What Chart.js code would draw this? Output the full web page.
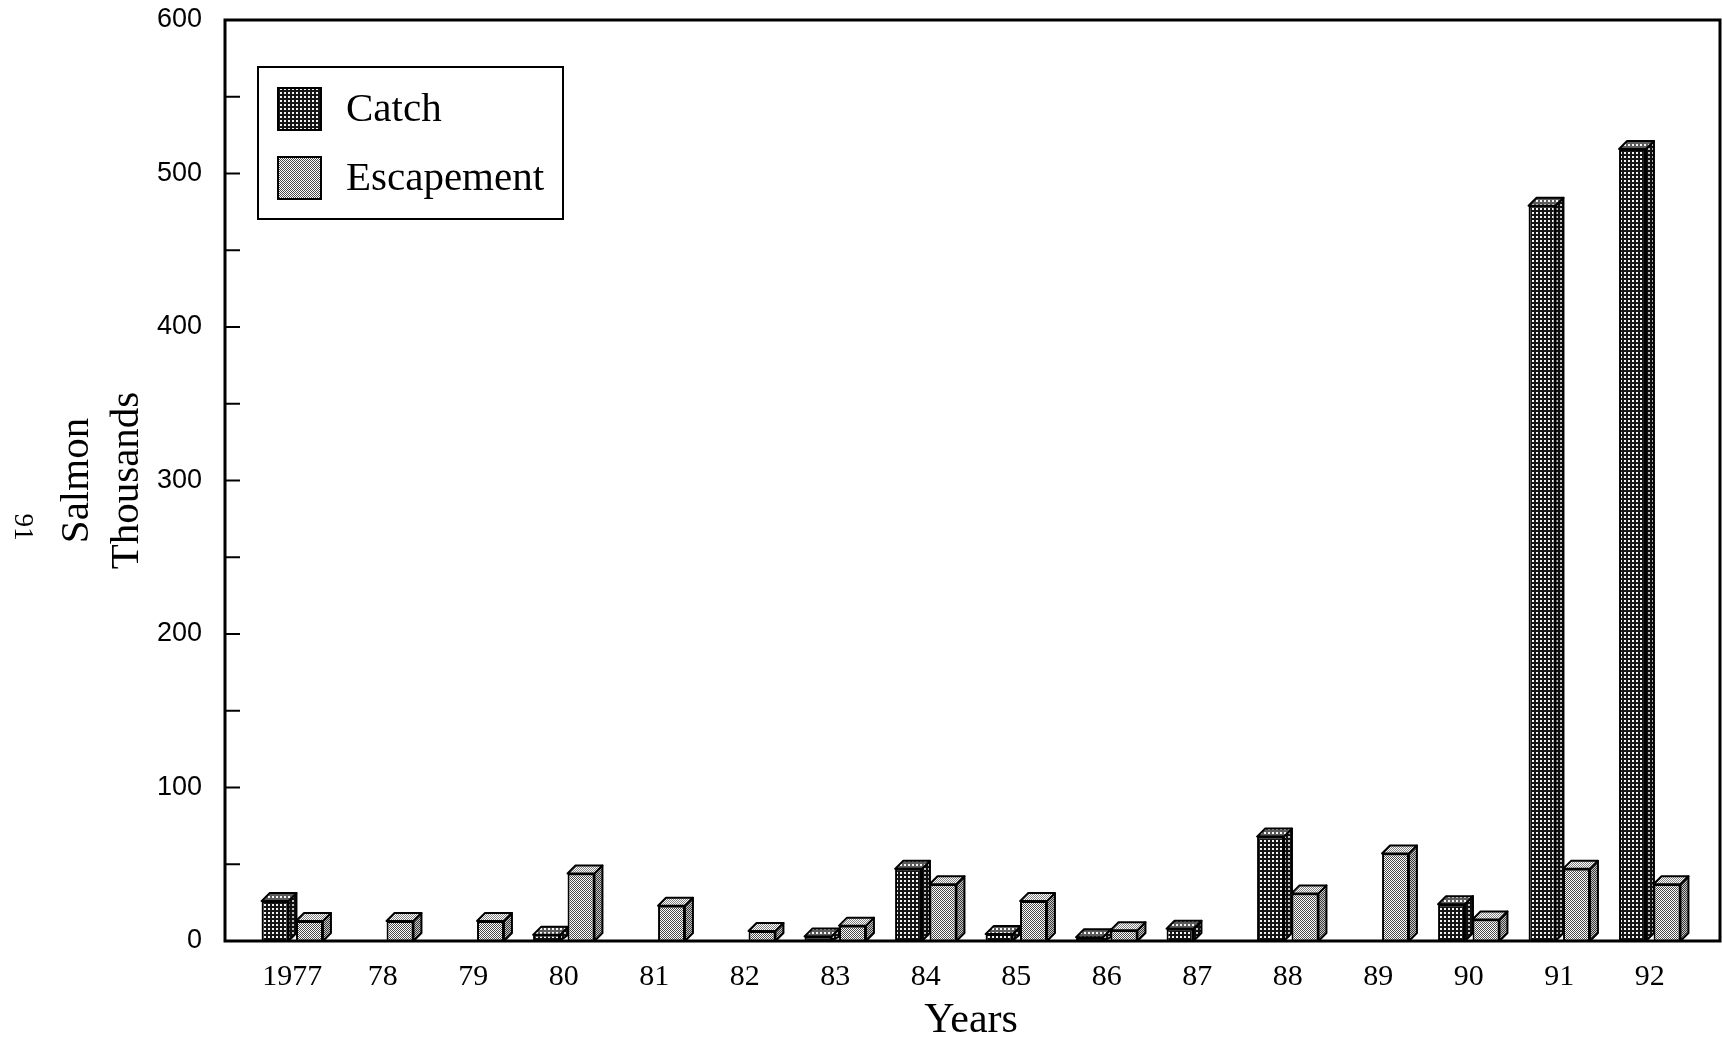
<!DOCTYPE html>
<html>
<head>
<meta charset="utf-8">
<script src="https://cdn.jsdelivr.net/npm/chart.js@4/dist/chart.umd.min.js"></script>
<style>
html,body{margin:0;padding:0;background:#fff;}
canvas{display:block;}
</style>
</head>
<body>
<canvas id="c" width="1722" height="1040"></canvas>
<script>
// ---- data ----
const years = ['1977','78','79','80','81','82','83','84','85','86','87','88','89','90','91','92'];
const catchValues      = [26, 0, 0, 4, 0, 0, 3, 47, 4.5, 2.5, 8, 68, 0, 24, 479, 516];
const escapementValues = [13, 13, 13, 44, 23, 6.5, 10, 37, 26, 7, 0, 31, 57, 14, 47, 37];
const seriesNames = ['Catch', 'Escapement'];
const yMin = 0, yMax = 600, yStep = 100, yMinorStep = 50;
const xTitle = 'Years';
const yTitle = ['Salmon', 'Thousands'];
const pageNumber = '91';

// ---- patterns ----
function makePattern(bg, fg, cells, size) {
  const c = document.createElement('canvas');
  c.width = size; c.height = size;
  const g = c.getContext('2d');
  g.fillStyle = bg; g.fillRect(0, 0, size, size);
  g.fillStyle = fg;
  cells.forEach(([x, y, w, h]) => g.fillRect(x, y, w, h));
  return document.getElementById('c').getContext('2d').createPattern(c, 'repeat');
}
const catchPattern = makePattern('#151515', '#f4f4f4', [[0,0,2,2]], 4);
const escPattern   = makePattern('#fff', '#4a4a4a', [[0,0,1,1],[1,1,1,1]], 2);

const SERIF = "'Liberation Serif', 'Times New Roman', serif";
const SANS  = "'Liberation Sans', Arial, sans-serif";
const DEPTH = 8;
const TOP_PX = 20;

function faces(ctx, el, pattern) {
  const p = el.getProps(['x','y','base','width'], true);
  if (p.base - p.y < 0.5) return;
  const l = p.x - p.width / 2, r = p.x + p.width / 2, d = DEPTH, y = p.y, b = p.base;
  ctx.save();
  ctx.lineWidth = 2; ctx.strokeStyle = '#000'; ctx.lineJoin = 'round';
  ctx.beginPath();
  ctx.moveTo(r, y); ctx.lineTo(r + d, y - d); ctx.lineTo(r + d, b - Math.min(d, b - y)); ctx.lineTo(r, b);
  ctx.closePath();
  ctx.fillStyle = pattern; ctx.fill();
  ctx.fillStyle = 'rgba(0,0,0,0.22)'; ctx.fill();
  ctx.stroke();
  ctx.beginPath();
  ctx.moveTo(l, y); ctx.lineTo(l + d, y - d); ctx.lineTo(r + d, y - d); ctx.lineTo(r, y);
  ctx.closePath();
  ctx.fillStyle = pattern; ctx.fill();
  ctx.fillStyle = 'rgba(255,255,255,0.3)'; ctx.fill();
  ctx.stroke();
  ctx.restore();
}

const deco = {
  id: 'deco',
  beforeDatasetsDraw(chart) {
    const ctx = chart.ctx;
    chart.data.datasets.forEach((ds, i) => {
      chart.getDatasetMeta(i).data.forEach(el => faces(ctx, el, ds.backgroundColor));
    });
  },
  afterDraw(chart) {
    const ctx = chart.ctx, ca = chart.chartArea, ys = chart.scales.y;
    const L = ca.left - 22, R = ca.right + 25, T = ca.top, B = ca.bottom;
    ctx.save();
    ctx.strokeStyle = '#000';
    ctx.lineWidth = 3;
    ctx.lineCap = 'square';
    ctx.beginPath();
    ctx.moveTo(L, T); ctx.lineTo(R, T); ctx.lineTo(R, B); ctx.lineTo(L, B); ctx.closePath();
    ctx.stroke();
    ctx.lineWidth = 2;
    for (let v = yMin; v <= yMax; v += yMinorStep) {
      const py = ys.getPixelForValue(v);
      ctx.beginPath(); ctx.moveTo(L, py); ctx.lineTo(L + 14, py); ctx.stroke();
    }
    // legend
    const bx = ca.left + 11, by = ca.top + 47, bw = 305, bh = 152;
    ctx.fillStyle = '#fff';
    ctx.fillRect(bx, by, bw, bh);
    ctx.lineWidth = 2;
    ctx.strokeRect(bx, by, bw, bh);
    const rowsY = [ca.top + 89, ca.top + 158];
    chart.data.datasets.forEach((ds, i) => {
      const cy = rowsY[i];
      ctx.fillStyle = ds.backgroundColor;
      ctx.fillRect(ca.left + 31, cy - 21, 43, 42);
      ctx.strokeRect(ca.left + 31, cy - 21, 43, 42);
      ctx.fillStyle = '#000';
      ctx.font = '41px ' + SERIF;
      ctx.textAlign = 'left';
      ctx.textBaseline = 'middle';
      ctx.fillText(ds.label, ca.left + 99, cy + 1);
    });
    // page number, printed sideways
    ctx.translate(22, 527);
    ctx.rotate(Math.PI / 2);
    ctx.font = '27px ' + SERIF;
    ctx.textAlign = 'center';
    ctx.textBaseline = 'middle';
    ctx.fillStyle = '#000';
    ctx.fillText(pageNumber, 0, 0);
    ctx.restore();
  }
};

const chart = new Chart(document.getElementById('c'), {
  type: 'bar',
  data: {
    labels: years,
    datasets: [
      { label: seriesNames[0], data: catchValues, backgroundColor: catchPattern, borderColor: '#000', borderWidth: 2,
        categoryPercentage: 0.762, barPercentage: 0.78 },
      { label: seriesNames[1], data: escapementValues, backgroundColor: escPattern, borderColor: '#000', borderWidth: 2,
        categoryPercentage: 0.762, barPercentage: 0.78 }
    ]
  },
  options: {
    responsive: false,
    animation: false,
    layout: { padding: { top: TOP_PX, right: 27, bottom: 0, left: 0 } },
    plugins: { legend: { display: false }, tooltip: { enabled: false }, title: { display: false } },
    scales: {
      x: {
        grid: { display: false, drawTicks: false },
        border: { display: false },
        ticks: { color: '#000', font: { family: SERIF, size: 30 }, padding: 18, maxRotation: 0, autoSkip: false },
        title: { display: true, text: xTitle, color: '#000', font: { family: SERIF, size: 42, lineHeight: 0.9 }, padding: 0 },
        afterFit(s) { s.height = 99; s.paddingLeft = 0; s.paddingRight = 0; }
      },
      y: {
        min: yMin, max: yMax,
        grid: { display: false, drawTicks: false },
        border: { display: false },
        ticks: { stepSize: yStep, color: '#000', font: { family: SANS, size: 27 }, padding: 45 },
        title: { display: true, text: yTitle, color: '#000', font: { family: SERIF, size: 41, lineHeight: 1.22 }, padding: { top: 52, bottom: 0 } },
        afterFit(s) { s.width = 247; s.paddingTop = 0; s.paddingBottom = 0; }
      }
    }
  },
  plugins: [deco]
});
const dTop = chart.chartArea.top - TOP_PX;
if (Math.abs(dTop) > 0.5) {
  chart.options.layout.padding.top = TOP_PX - dTop;
  chart.update();
}
</script>
</body>
</html>
